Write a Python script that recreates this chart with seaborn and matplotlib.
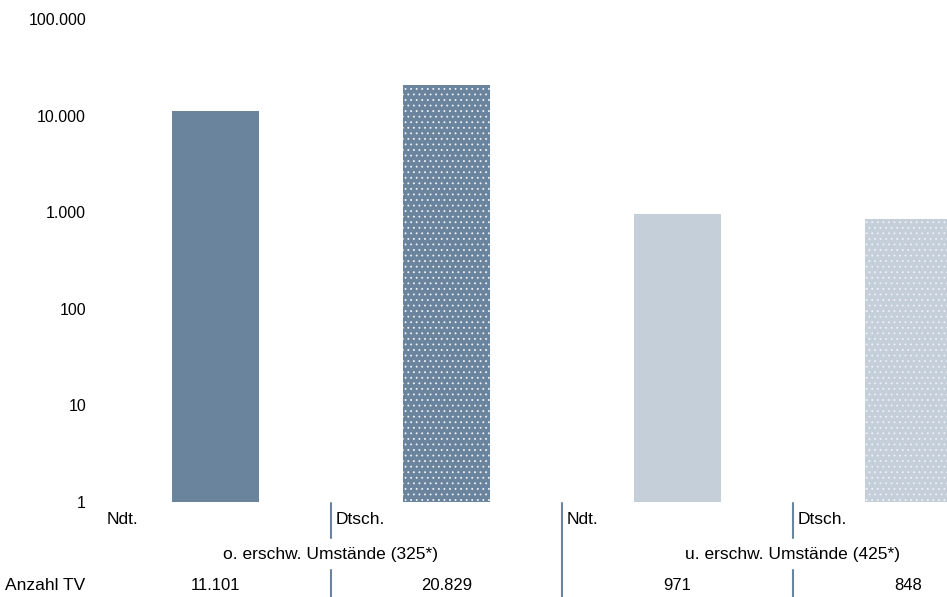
import matplotlib
matplotlib.use('Agg')
from matplotlib import pyplot as plt
import matplotlib.ticker as mtick
import matplotlib.transforms as mtrans
import pandas as pd
import seaborn as sns

# Daten
kategorien = ['Ndt. o.', 'Dtsch. o.', 'Ndt. u.', 'Dtsch. u.']
kurz_labels = ['Ndt.', 'Dtsch.', 'Ndt.', 'Dtsch.']
anzahl_tv = [11101, 20829, 971, 848]
gruppen = ['o. erschw. Umstände (325*)', 'u. erschw. Umstände (425*)']
farben = ['#6b849d', '#6b849d', '#c5cfda', '#c5cfda']
gepunktet = [False, True, False, True]

df = pd.DataFrame({'kategorie': kategorien, 'anzahl': anzahl_tv})

sns.set_theme(style='white')
plt.rcParams['font.family'] = ['Liberation Sans', 'DejaVu Sans']
plt.rcParams['hatch.linewidth'] = 0.6

fig = plt.figure(figsize=(9.47, 5.97), dpi=100)
ax = fig.add_axes([0.1056, 0.159, 0.8944, 0.809])

sns.barplot(data=df, x='kategorie', y='anzahl', hue='kategorie', palette=farben,
            width=0.38, legend=False, ax=ax, saturation=1)
ax.set_yscale('log')
ax.set_ylim(1, 100000)
ax.set_xlim(-0.5, 3.167)

# Punktmuster für Dtsch.
for patch, punkt in zip(ax.patches, gepunktet):
    patch.set_linewidth(0)
    if punkt:
        patch.set_hatch('...')
        patch.set_edgecolor('#eef1f5')

ax.yaxis.set_major_locator(mtick.LogLocator(base=10, numticks=10))
ax.yaxis.set_minor_locator(mtick.NullLocator())
ax.yaxis.set_major_formatter(mtick.FuncFormatter(lambda v, p: f'{int(round(v)):,}'.replace(',', '.')))
ax.tick_params(axis='y', length=0, pad=10, labelsize=11.5, labelcolor='black')
ax.set_xticks([])
ax.set_xlabel('')
ax.set_ylabel('')
for s in ax.spines.values():
    s.set_visible(False)

# Tabelle unten
tr = mtrans.blended_transform_factory(ax.transData, fig.transFigure)
linie = '#6b849d'
for x in [0.5, 2.5]:
    ax.plot([x, x], [0.1575, 0.099], color=linie, lw=1.5, transform=tr, clip_on=False)
    ax.plot([x, x], [0.045, 0.0], color=linie, lw=1.5, transform=tr, clip_on=False)
ax.plot([1.5, 1.5], [0.1575, 0.0], color=linie, lw=1.5, transform=tr, clip_on=False)

for i, lab in enumerate(kurz_labels):
    x0 = -0.47 if i == 0 else i - 0.48
    ax.text(x0, 0.129, lab, transform=tr, ha='left', va='center', fontsize=12.5, color='black')

for i, g in enumerate(gruppen):
    ax.text(0.5 + 2 * i, 0.072, g, transform=tr, ha='center', va='center', fontsize=12.5, color='black')

for i, n in enumerate(anzahl_tv):
    ax.text(i, 0.02, f'{n:,}'.replace(',', '.'), transform=tr, ha='center', va='center',
            fontsize=12, color='black')
fig.text(0.005, 0.02, 'Anzahl TV', ha='left', va='center', fontsize=12.5, color='black')

plt.savefig('out.png', dpi=100)
